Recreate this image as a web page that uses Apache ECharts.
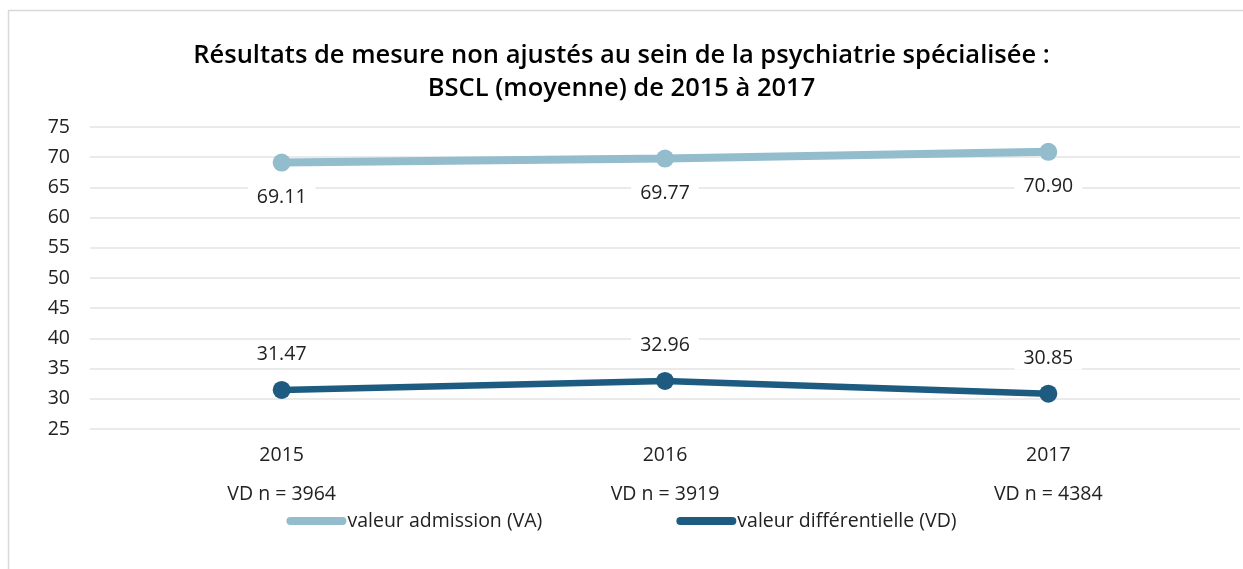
<!DOCTYPE html>
<html><head><meta charset="utf-8">
<script src="https://cdn.jsdelivr.net/npm/echarts@6/dist/echarts.min.js"></script>
<style>html,body{margin:0;padding:0;background:#fff}#c{width:1243px;height:569px}</style>
</head><body><div id="c"></div>
<script>
const categories = ['2015', '2016', '2017'];
const sampleLabels = ['VD n = 3964', 'VD n = 3919', 'VD n = 4384'];
const seriesNames = ['valeur admission (VA)', 'valeur différentielle (VD)'];
const vaValues = [69.11, 69.77, 70.90];
const vdValues = [31.47, 32.96, 30.85];
const titleLines = ['Résultats de mesure non ajustés au sein de la psychiatrie spécialisée :', 'BSCL (moyenne) de 2015 à 2017'];

const FONT = '"Open Sans", "Noto Sans", sans-serif';
const VA_COLOR = '#93bccd';
const VD_COLOR = '#1d5c80';
const chart = echarts.init(document.getElementById('c'));
const labelStyle = {
  show: true, fontFamily: FONT, fontSize: 19.5, color: '#222',
  backgroundColor: '#fff', padding: [1, 9],
  formatter: p => p.value.toFixed(2)
};
chart.setOption({
  animation: false,
  graphic: [{ type: 'rect', shape: { x: 8.5, y: 10.5, width: 1300, height: 620 },
    style: { fill: 'none', stroke: '#d9d9d9', lineWidth: 1.5 }, silent: true }],
  title: {
    text: titleLines.join('\n'), left: 'center', top: 34,
    textStyle: { fontFamily: FONT, fontSize: 25.5, fontWeight: 600, color: '#000', lineHeight: 33, letterSpacing: -1.1 }
  },
  legend: {
    bottom: 33, left: 'center', itemGap: 134, itemWidth: 52, itemHeight: 10,
    textStyle: { fontFamily: FONT, fontSize: 19.5, color: '#222', padding: [0, 0, 0, 0] },
    data: [
      { name: seriesNames[0], itemStyle: { color: VA_COLOR }, lineStyle: { width: 8, color: VA_COLOR, cap: 'round' } },
      { name: seriesNames[1], itemStyle: { color: VD_COLOR }, lineStyle: { width: 8, color: VD_COLOR, cap: 'round' } }
    ]
  },
  grid: { left: 90, right: 3, top: 127, bottom: 140 },
  xAxis: {
    type: 'category', data: categories, boundaryGap: true,
    axisLine: { show: false }, axisTick: { show: false },
    axisLabel: {
      margin: 7, fontFamily: FONT, fontSize: 19.5, color: '#222', lineHeight: 39,
      formatter: (v, i) => v + '\n' + sampleLabels[i]
    }
  },
  yAxis: {
    type: 'value', min: 25, max: 75, interval: 5,
    axisLine: { show: false }, axisTick: { show: false },
    axisLabel: { margin: 20, fontFamily: FONT, fontSize: 19.5, color: '#222' },
    splitLine: { lineStyle: { color: '#e3e3e3', width: 1.5 } }
  },
  series: [
    { name: seriesNames[0], type: 'line', data: vaValues, symbol: 'circle', symbolSize: 18,
      itemStyle: { color: VA_COLOR }, lineStyle: { width: 8, color: VA_COLOR },
      label: Object.assign({ position: 'bottom', distance: 15 }, labelStyle) },
    { name: seriesNames[1], type: 'line', data: vdValues, symbol: 'circle', symbolSize: 18,
      itemStyle: { color: VD_COLOR }, lineStyle: { width: 6.5, color: VD_COLOR },
      label: Object.assign({ position: 'top', distance: 15 }, labelStyle) }
  ]
});
</script></body></html>
